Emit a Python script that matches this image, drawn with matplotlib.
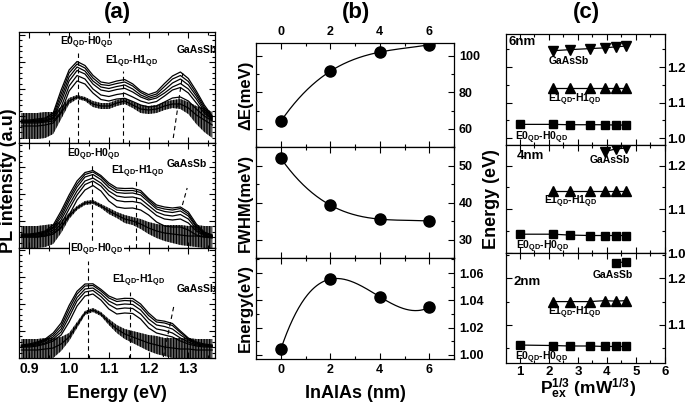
import numpy as np
import matplotlib
matplotlib.use("Agg")
import matplotlib.pyplot as plt
from matplotlib.ticker import MultipleLocator, NullFormatter

plt.rcParams["font.family"] = ["Liberation Sans", "DejaVu Sans"]
plt.rcParams["font.weight"] = "bold"
plt.rcParams["mathtext.fontset"] = "custom"
plt.rcParams["mathtext.rm"] = "Liberation Sans:bold"
plt.rcParams["mathtext.it"] = "Liberation Sans:bold"
plt.rcParams["mathtext.bf"] = "Liberation Sans:bold"
plt.rcParams["axes.linewidth"] = 0.9
plt.rcParams["hatch.linewidth"] = 0.9

# ---- panel (a): PL spectra, intensity in arbitrary units (0 = panel bottom)
energy = np.round(np.arange(0.88, 1.361, 0.02), 2)

top_curves = [
    [23, 23, 24, 25, 30, 53, 73, 81.5, 77.5, 67.7, 61, 59.7, 62, 63.4, 59.1, 52.2, 48.4, 51.2, 59.5, 67, 71, 64.5, 52, 38, 27],
    [22, 22, 23, 24, 28, 49, 70, 79, 75, 65, 58.5, 57.5, 59.5, 61, 57, 50.5, 46.5, 49, 56.5, 64, 67.5, 61.5, 49.5, 36, 26],
    [22, 22, 22, 23, 26, 45, 66, 76, 72, 62, 56, 54.5, 56.5, 58, 54, 48, 44.7, 47, 53, 60, 64, 58, 47, 34, 25],
    [21, 21, 22, 22, 25, 41, 62, 72.5, 69, 59, 53, 51.5, 53.5, 54.7, 51, 46, 43, 45, 50, 56, 59.5, 54, 44, 32, 24],
    [21, 21, 21, 22, 24, 36, 57, 67.5, 64, 54, 48, 46.5, 48.5, 49.7, 46, 42, 39.7, 41.5, 47, 53, 55.5, 50, 40, 30, 23],
    [20, 20, 20, 21, 22, 31, 52, 62, 59, 50, 43.5, 42, 44, 44.7, 41.5, 38, 36, 37, 41, 45, 46, 42, 34, 27, 22],
]
top_noise_mid = [17, 17, 17, 18, 20, 30, 42, 46, 44, 39, 37, 37, 40, 42, 38, 34, 33, 34, 37, 39, 39, 35, 28, 23, 18]
top_noise_hw = [13, 13, 13, 13, 11, 6, 3, 2, 2, 3, 3, 3, 3, 3, 3, 4, 4, 4, 4, 4, 5, 6, 9, 12, 13]

mid_curves = [
    [14, 14, 15, 17, 23, 37, 53, 67, 75.5, 77.5, 72.5, 65, 60, 59.5, 59.7, 57.5, 49.5, 43, 41, 40, 41, 36, 24, 16, 13],
    [13, 13, 14, 16, 21, 34, 50, 64, 73.5, 76, 71, 63, 58, 57.3, 57.5, 55.5, 48, 41, 39, 38, 39.5, 34, 22, 15, 12],
    [13, 13, 14, 15, 20, 31, 47, 61, 71, 73.5, 68.5, 60.5, 55.5, 54.7, 55, 53, 46, 39, 36.5, 35.5, 37, 32, 21, 14, 12],
    [12, 12, 13, 14, 18, 28, 43, 57, 67, 70, 65, 57, 52, 50.7, 51, 49, 42.5, 36, 33, 32, 33.5, 29, 19, 13, 11],
    [12, 12, 12, 13, 16, 24, 39, 53, 63.5, 67, 62, 53, 47.5, 46.3, 46.5, 45, 39, 32.5, 29, 28, 29, 25, 17, 12, 11],
    [11, 11, 11, 12, 14, 20, 33, 48, 58, 62.5, 57, 47, 41, 39.7, 40, 38, 33, 26, 22, 21, 21, 18, 13, 11, 10],
]
mid_noise_mid = [11, 11, 11, 12, 14, 21, 32, 40, 45, 46, 42, 37, 33, 29, 27, 24, 20, 17, 15, 14, 13, 12, 12, 11, 11]
mid_noise_hw = [11, 11, 11, 11, 10, 6, 3, 2, 2, 2, 2, 3, 3, 4, 4, 5, 6, 7, 8, 9, 10, 10, 11, 11, 11]

bot_curves = [
    [13, 14, 16, 19, 25, 35, 52.5, 66.7, 74, 74.2, 68.7, 62, 58.7, 59.7, 59.5, 54, 45, 38, 36.8, 34.5, 27, 20, 16, 14, 13],
    [12, 13, 15, 18, 23, 32, 49, 64, 72, 72.5, 67, 60, 56.5, 57.5, 57, 51.5, 42.5, 36, 35, 32.5, 25.5, 19, 15, 13, 12],
    [12, 13, 14, 17, 21, 29, 45, 60.5, 69, 70, 64.5, 57, 53, 54, 53.5, 48, 39, 33, 31.5, 29, 23, 18, 14, 13, 12],
    [11, 12, 13, 15, 19, 26, 41, 57, 66, 67.5, 61.5, 53.5, 49, 50, 49.5, 44, 35, 29, 27.5, 25, 20, 16, 13, 12, 11],
    [11, 11, 12, 14, 17, 23, 36, 52, 62, 64, 58, 49, 44, 45, 44.5, 39, 30, 25, 23, 21, 17, 14, 12, 11, 11],
]
bot_noise_mid = [8, 8, 8, 9, 10, 14, 21, 33, 45, 48, 44, 36, 29, 24, 21, 18, 15, 13, 11, 10, 9, 9, 8, 8, 8]
bot_noise_hw = [11, 11, 11, 11, 10, 7, 4, 3, 2, 2, 2, 3, 4, 5, 6, 7, 8, 9, 9, 10, 11, 11, 11, 11, 11]

# ---- panel (b)
inalas = [0, 2, 4, 6]
delta_e = [64, 91.5, 102, 106]
fwhm = [52, 39.3, 35.5, 35]
peak_energy = [1.004, 1.0555, 1.0426, 1.0348]

# ---- panel (c): excitation power (mW) and transition energies (eV)
p_ex = np.array([1, 10, 20, 40, 60, 80, 100])
e0_6nm = [1.039, 1.039, 1.038, 1.038, 1.038, 1.037, 1.037]
e1_6nm = [1.141, 1.141, 1.141, 1.141, 1.141, 1.141]
gaas_6nm = [1.246, 1.249, 1.252, 1.254, 1.257, 1.259]
e0_4nm = [1.043, 1.043, 1.041, 1.040, 1.040, 1.040, 1.040]
e1_4nm = [1.142, 1.142, 1.142, 1.142, 1.142, 1.142]
gaas_4nm = [1.232, 1.238, 1.240]
e0_2nm = [1.057, 1.056, 1.055, 1.055, 1.054, 1.054, 1.054]
e1_2nm = [1.150, 1.150, 1.150, 1.152, 1.151, 1.152]
gaas_2nm = [1.233, 1.235]

E0 = r"E0$_{\rm QD}$-H0$_{\rm QD}$"
E1 = r"E1$_{\rm QD}$-H1$_{\rm QD}$"

fig = plt.figure(figsize=(6.85, 4.03), dpi=100)
W, H = 685, 403


def box(x0, y0, x1, y1):
    return [x0 / W, 1 - y1 / H, (x1 - x0) / W, (y1 - y0) / H]


def spectra(ax, curves, nmid, nhw, ymax, labelx):
    nmid, nhw = np.array(nmid), np.array(nhw)
    # noisy low-power spectrum drawn as a hatched band around its mean
    ax.fill_between(energy, nmid - nhw, nmid + nhw, facecolor="0.4", edgecolor="k",
                    hatch="||||||", lw=0)
    ax.plot(energy, nmid, color="k", lw=0.9)
    for c in curves:
        ax.plot(energy, c, color="k", lw=0.9)
    ax.set_xlim(0.874, 1.367)
    ax.set_ylim(0, ymax)
    ax.xaxis.set_major_locator(MultipleLocator(0.1))
    ax.xaxis.set_minor_locator(MultipleLocator(0.05))
    ax.yaxis.set_major_locator(MultipleLocator(27))
    ax.yaxis.set_minor_locator(MultipleLocator(5.4))
    ax.yaxis.set_major_formatter(NullFormatter())
    ax.tick_params(which="both", direction="in", top=True, right=True, labelsize=10, width=0.8)
    ax.tick_params(which="major", length=4)
    ax.tick_params(which="minor", length=2)
    if not labelx:
        ax.xaxis.set_major_formatter(NullFormatter())


lab = dict(fontsize=7.5, fontweight="bold", ha="center", va="center")
dash = dict(color="k", lw=0.8, ls=(0, (4, 3)))

# (a) top
ax = fig.add_axes(box(19, 32, 215, 143))
spectra(ax, top_curves, top_noise_mid, top_noise_hw, 111, False)
ax.plot([1.023, 1.023], [0, 90], **dash)
ax.plot([1.136, 1.136], [0, 72], **dash)
ax.plot([1.262, 1.286], [5, 70], **dash)
ax.text(1.044, 100, E0, **lab)
ax.text(1.158, 81, E1, **lab)
ax.text(1.321, 93, "GaAsSb", **lab)

# (a) middle
ax = fig.add_axes(box(19, 143, 215, 248))
spectra(ax, mid_curves, mid_noise_mid, mid_noise_hw, 105, False)
ax.plot([1.057, 1.057], [0, 85], **dash)
ax.plot([1.168, 1.168], [0, 70], **dash)
ax.plot([1.285, 1.297], [43, 60], **dash)
ax.text(1.061, 93, E0, **lab)
ax.text(1.172, 76, E1, **lab)
ax.text(1.296, 84, "GaAsSb", **lab)

# (a) bottom
ax = fig.add_axes(box(19, 248, 215, 358))
spectra(ax, bot_curves, bot_noise_mid, bot_noise_hw, 110, True)
ax.plot([1.047, 1.047], [0, 97], **dash)
ax.plot([1.153, 1.153], [0, 66], **dash)
ax.plot([1.237, 1.264], [1, 53], **dash)
ax.text(1.070, 108, E0, clip_on=False, zorder=5,
        bbox=dict(facecolor="white", edgecolor="none", pad=0.3), **lab)
ax.text(1.176, 77, E1, **lab)
ax.text(1.321, 69, "GaAsSb", **lab)
ax.tick_params(axis="x", pad=3)
for t in ax.get_xticklabels():
    t.set_fontweight("bold")

fig.text(117 / W, 1 - 12.5 / H, "(a)", fontsize=16, fontweight="bold", ha="center", va="center")
fig.text(9 / W, 1 - 181 / H, "PL intensity (a.u)", fontsize=13, fontweight="bold",
         rotation=90, ha="center", va="center")
fig.text(117 / W, 1 - 398 / H, "Energy (eV)", fontsize=13, fontweight="bold", ha="center", va="baseline")

# (b)
xs = np.linspace(0, 6, 200)
b_specs = [
    (box(256, 43, 454, 147), delta_e, (50, 107), 20, 10, "ΔE(meV)", "top"),
    (box(256, 147, 454, 258), fwhm, (25, 55), 10, 5, "FWHM(meV)", None),
    (box(256, 258, 454, 359), peak_energy, (0.997, 1.071), 0.02, 0.01, "Energy(eV)", "bottom"),
]
for rect, vals, ylim, maj, mnr, ylab, xl in b_specs:
    ax = fig.add_axes(rect)
    fit = np.polyfit(inalas, vals, 3)
    ax.plot(xs, np.polyval(fit, xs), color="k", lw=0.9)
    ax.plot(inalas, vals, "o", color="k", ms=8)
    ax.set_xlim(-1, 7)
    ax.set_ylim(*ylim)
    ax.xaxis.set_major_locator(MultipleLocator(2))
    ax.xaxis.set_minor_locator(MultipleLocator(1))
    ax.yaxis.set_major_locator(MultipleLocator(maj))
    ax.yaxis.set_minor_locator(MultipleLocator(mnr))
    ax.tick_params(which="both", direction="in", top=True, bottom=True, left=True, right=True,
                   labelleft=False, labelright=True, labeltop=(xl == "top"),
                   labelbottom=(xl == "bottom"), labelsize=9, width=0.8)
    ax.tick_params(which="major", length=4)
    ax.tick_params(which="minor", length=2)
    if maj < 0.1:
        ax.yaxis.set_major_formatter(plt.FormatStrFormatter("%.2f"))
    for t in ax.get_xticklabels() + ax.get_yticklabels():
        t.set_fontweight("bold")
    ax.set_ylabel(ylab, fontsize=12, fontweight="bold", labelpad=2)

fig.text(356 / W, 1 - 12.5 / H, "(b)", fontsize=16, fontweight="bold", ha="center", va="center")
fig.text(355 / W, 1 - 398 / H, "InAlAs (nm)", fontsize=13, fontweight="bold", ha="center", va="baseline")

# (c)
px = p_ex ** (1 / 3)
c_specs = [
    (box(506, 34, 665, 145), (0.981, 1.293), "6nm", (0.015, 0.93),
     [(px, e0_6nm, "s"), (px[1:], e1_6nm, "^"), (px[1:], gaas_6nm, "v")],
     [(2.69, 1.218, "GaAsSb"), (2.9, 1.108, E1), (1.75, 1.002, E0)]),
    (box(506, 145, 665, 253), (1.0, 1.247), "4nm", (0.065, 0.9),
     [(px, e0_4nm, "s"), (px[1:], e1_4nm, "^"), (px[4:], gaas_4nm, "v")],
     [(4.08, 1.213, "GaAsSb"), (2.76, 1.116, E1), (1.78, 1.014, E0)]),
    (box(506, 253, 665, 363), (1.0186, 1.254), "2nm", (0.045, 0.735),
     [(px, e0_2nm, "s"), (px[1:], e1_2nm, "^"), (px[5:], gaas_2nm, "s")],
     [(4.2, 1.207, "GaAsSb"), (2.88, 1.125, E1), (1.75, 1.030, E0)]),
]
for i, (rect, ylim, tag, tagpos, series, labels) in enumerate(c_specs):
    ax = fig.add_axes(rect)
    for x, y, m in series:
        ax.plot(x, y, marker=m, color="k", lw=0.9, ms=5.5 if m == "s" else 6.5)
    for x, y, s in labels:
        ax.text(x, y, s, **lab)
    ax.text(tagpos[0], tagpos[1], tag, transform=ax.transAxes, fontsize=9.5,
            fontweight="bold", ha="left", va="center")
    ax.set_xlim(0.52, 6.0)
    ax.set_ylim(*ylim)
    ax.xaxis.set_major_locator(MultipleLocator(1))
    ax.xaxis.set_minor_locator(MultipleLocator(0.5))
    ax.yaxis.set_major_locator(MultipleLocator(0.1))
    ax.yaxis.set_minor_locator(MultipleLocator(0.05))
    ax.yaxis.set_major_formatter(plt.FormatStrFormatter("%.1f"))
    ax.tick_params(which="both", direction="in", top=True, right=True, labelleft=False,
                   labelright=True, labelbottom=(i == 2), labelsize=9.5, width=0.8)
    ax.tick_params(axis="y", pad=1.5)
    ax.tick_params(axis="x", pad=2)
    ax.tick_params(which="major", length=4)
    ax.tick_params(which="minor", length=2)
    for t in ax.get_xticklabels() + ax.get_yticklabels():
        t.set_fontweight("bold")

fig.text(586 / W, 1 - 12.5 / H, "(c)", fontsize=16, fontweight="bold", ha="center", va="center")
fig.text(492 / W, 1 - 199 / H, "Energy (eV)", fontsize=13, fontweight="bold",
         rotation=90, ha="center", va="center")
fig.text(588 / W, 1 - 394 / H, r"P$_{\rm ex}^{\rm 1/3}$ (mW$^{\rm 1/3}$)", fontsize=12.5,
         fontweight="bold", ha="center", va="baseline")

fig.savefig("out.png", dpi=100)
